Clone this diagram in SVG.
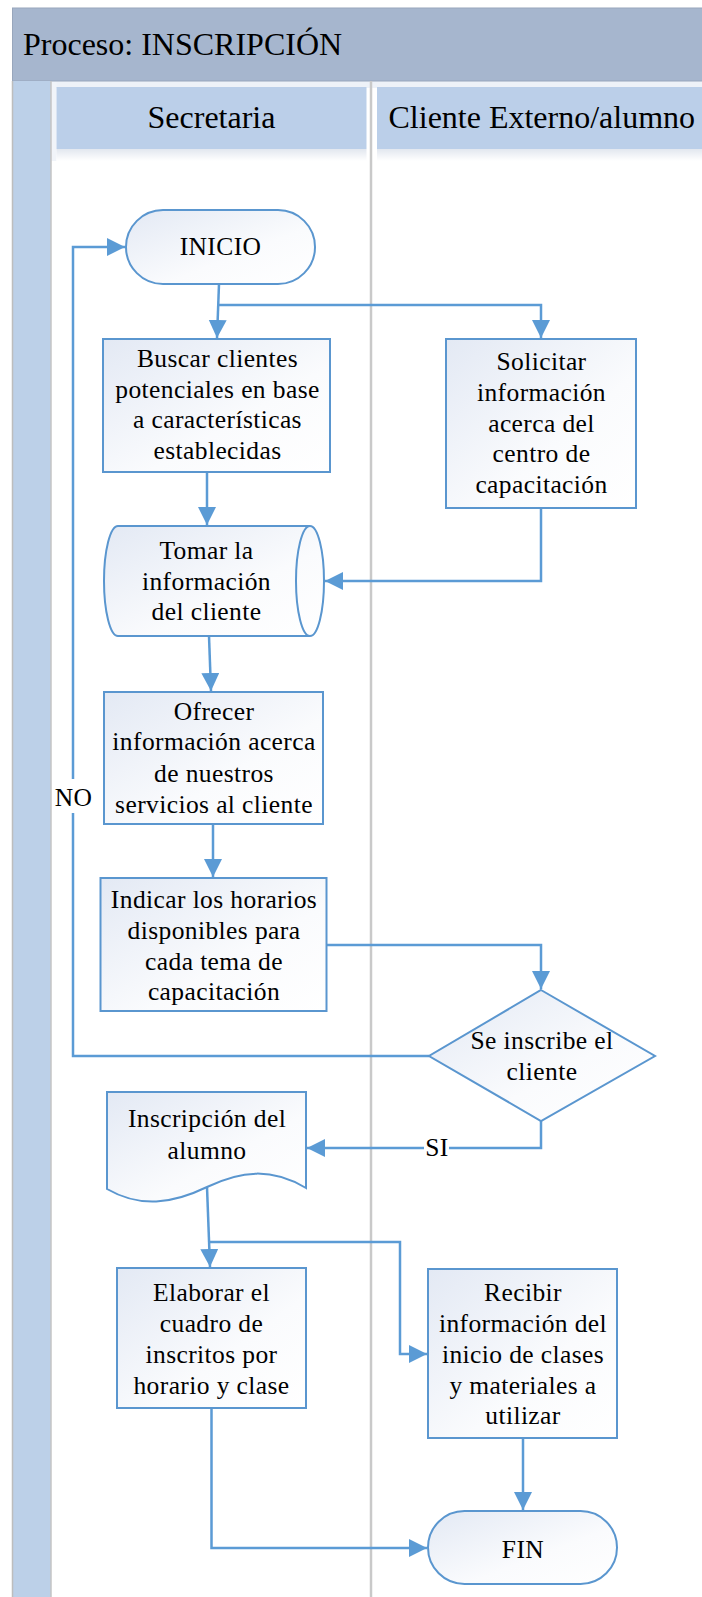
<svg xmlns="http://www.w3.org/2000/svg" width="702" height="1597" viewBox="0 0 702 1597">
<style>
.t{font-family:"Liberation Serif","Times New Roman",serif;font-size:25.5px;letter-spacing:0.4px;fill:#000;text-anchor:middle}
.h{font-family:"Liberation Serif","Times New Roman",serif;font-size:32px;fill:#000}
.c{text-anchor:middle}
.shape{fill:url(#sg);stroke:#5A96CF;stroke-width:2}
.conn{fill:none;stroke:#5B9BD5;stroke-width:2.5}
.arr{marker-end:url(#ah)}
.lbl{fill:#fff}
</style>
<defs>
<linearGradient id="sg" x1="0" y1="0" x2="1" y2="1">
<stop offset="0" stop-color="#E3E9F4"/>
<stop offset="0.6" stop-color="#FAFBFD"/>
<stop offset="1" stop-color="#FFFFFF"/>
</linearGradient>
<linearGradient id="sh" x1="0" y1="0" x2="0" y2="1">
<stop offset="0" stop-color="#E2E7EF"/>
<stop offset="1" stop-color="#FFFFFF"/>
</linearGradient>
<marker id="ah" markerUnits="userSpaceOnUse" markerWidth="20" markerHeight="20" refX="18" refY="9" orient="auto">
<path d="M0,0 L18,9 L0,18 Z" fill="#5B9BD5"/>
</marker>
</defs>

<g id="pool">
<rect x="12.5" y="81" width="700" height="1530" fill="#FFFFFF"/>
<rect x="51" y="81" width="660" height="7" fill="#EEF2F8"/>
<rect x="51" y="81" width="5.5" height="80" fill="#F1F4F9"/>
<rect x="12.5" y="8" width="700" height="73" fill="#A6B6CE" stroke="#98A6BC" stroke-width="1"/>
<text class="h" x="23" y="55">Proceso: INSCRIPCIÓN</text>
<rect x="12.5" y="81" width="38.5" height="1530" fill="#BCD0E8"/>
<line x1="12.5" y1="81" x2="12.5" y2="1597" stroke="#BDBDBD" stroke-width="1.5"/>
<line x1="51" y1="81" x2="51" y2="1597" stroke="#C4C4C4" stroke-width="1.5"/>
<line x1="371" y1="81" x2="371" y2="1597" stroke="#C9C9C9" stroke-width="2.5"/>
</g>

<g id="lane-secretaria">
<rect x="56.5" y="149" width="310" height="12" fill="url(#sh)"/>
<rect x="56.5" y="87" width="310" height="62" fill="#BBCFE9"/>
<text class="h c" x="211.5" y="128">Secretaria</text>
</g>
<g id="lane-cliente">
<rect x="377" y="149" width="330" height="12" fill="url(#sh)"/>
<rect x="377" y="87" width="330" height="62" fill="#BBCFE9"/>
<text class="h" x="388.5" y="128">Cliente Externo/alumno</text>
</g>

<g id="connectors">
<path class="conn arr" d="M219,284 L217,338"/>
<path class="conn arr" d="M219,305 L541,305 L541,338"/>
<path class="conn arr" d="M207,472 L207,525"/>
<path class="conn arr" d="M541,508 L541,581 L325,581"/>
<path class="conn arr" d="M209,636 L211,691"/>
<path class="conn arr" d="M213,824 L213,877"/>
<path class="conn arr" d="M327,945 L541,945 L541,989"/>
<path class="conn arr" d="M429,1056 L73,1056 L73,247 L125,247"/>
<path class="conn arr" d="M541,1121 L541,1148 L307,1148"/>
<path class="conn arr" d="M207,1187 L210,1267"/>
<path class="conn arr" d="M208.5,1242 L400,1242 L400,1354 L427,1354"/>
<path class="conn arr" d="M211.5,1408 L211.5,1548 L427,1548"/>
<path class="conn arr" d="M523,1438 L523,1510"/>
<rect class="lbl" x="54" y="779" width="39" height="34"/>
<text class="t" x="73.5" y="806">NO</text>
<rect class="lbl" x="424" y="1135" width="25" height="26"/>
<text class="t" x="437" y="1156">SI</text>
</g>

<g id="inicio">
<rect class="shape" x="126" y="210" width="189" height="74" rx="37" ry="37"/>
<text class="t" x="220.5" y="255">INICIO</text>
</g>

<g id="buscar">
<rect class="shape" x="103" y="339" width="227" height="133"/>
<text class="t" x="217.5" y="366.5">Buscar clientes</text>
<text class="t" x="217.5" y="397.5">potenciales en base</text>
<text class="t" x="217.5" y="428">a características</text>
<text class="t" x="217.5" y="458.5">establecidas</text>
</g>

<g id="solicitar">
<rect class="shape" x="446" y="339" width="190" height="169"/>
<text class="t" x="541.5" y="370">Solicitar</text>
<text class="t" x="541.5" y="400.5">información</text>
<text class="t" x="541.5" y="431.5">acerca del</text>
<text class="t" x="541.5" y="462">centro de</text>
<text class="t" x="541.5" y="493">capacitación</text>
</g>

<g id="tomar">
<path class="shape" d="M118,526 L310,526 A14,55 0 0 1 310,636 L118,636 A14,55 0 0 1 118,526 Z"/>
<path d="M310,526 A14,55 0 0 0 310,636" fill="none" stroke="#5A96CF" stroke-width="2"/>
<text class="t" x="206.5" y="558.5">Tomar la</text>
<text class="t" x="206.5" y="589.5">información</text>
<text class="t" x="206.5" y="620">del cliente</text>
</g>

<g id="ofrecer">
<rect class="shape" x="104" y="692" width="219" height="132"/>
<text class="t" x="214" y="719.5">Ofrecer</text>
<text class="t" x="214" y="750">información acerca</text>
<text class="t" x="214" y="781.5">de nuestros</text>
<text class="t" x="214" y="813">servicios al cliente</text>
</g>

<g id="indicar">
<rect class="shape" x="100.5" y="878" width="226" height="133"/>
<text class="t" x="214" y="907.5">Indicar los horarios</text>
<text class="t" x="214" y="938.5">disponibles para</text>
<text class="t" x="214" y="969.5">cada tema de</text>
<text class="t" x="214" y="1000">capacitación</text>
</g>

<g id="decision">
<path class="shape" d="M541,990 L655,1056 L541,1121 L429,1056 Z"/>
<text class="t" x="542" y="1049">Se inscribe el</text>
<text class="t" x="542" y="1079.5">cliente</text>
</g>

<g id="inscripcion">
<path class="shape" d="M107,1092 L306,1092 L306,1188 C272,1168 242,1170 207,1187 C172,1204 140,1208 107,1189 Z"/>
<text class="t" x="207" y="1126.5">Inscripción del</text>
<text class="t" x="207" y="1159">alumno</text>
</g>

<g id="elaborar">
<rect class="shape" x="117" y="1268" width="189" height="140"/>
<text class="t" x="211.5" y="1300.5">Elaborar el</text>
<text class="t" x="211.5" y="1331.5">cuadro de</text>
<text class="t" x="211.5" y="1363">inscritos por</text>
<text class="t" x="211.5" y="1394">horario y clase</text>
</g>

<g id="recibir">
<rect class="shape" x="428" y="1269" width="189" height="169"/>
<text class="t" x="523" y="1300.5">Recibir</text>
<text class="t" x="523" y="1331.5">información del</text>
<text class="t" x="523" y="1362.5">inicio de clases</text>
<text class="t" x="523" y="1393.5">y materiales a</text>
<text class="t" x="523" y="1424">utilizar</text>
</g>

<g id="fin">
<rect class="shape" x="428" y="1511" width="189" height="73" rx="36.5" ry="36.5"/>
<text class="t" x="523" y="1558">FIN</text>
</g>
</svg>
